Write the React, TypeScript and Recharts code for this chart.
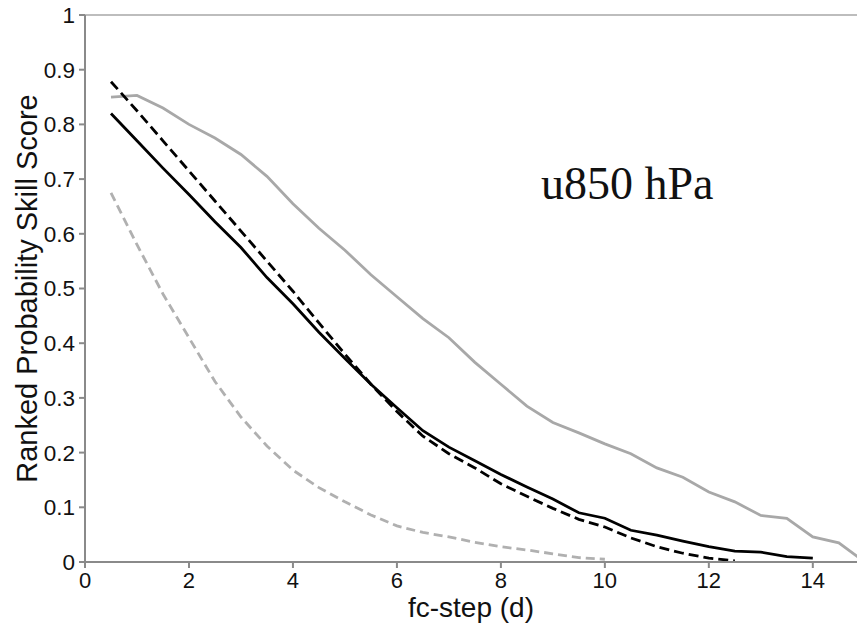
import { LineChart, Line, XAxis, YAxis, ReferenceLine, Label } from "recharts"

// forecast step in days
const steps = [
  0.5, 1, 1.5, 2, 2.5, 3, 3.5, 4, 4.5, 5, 5.5, 6, 6.5, 7, 7.5, 8, 8.5, 9, 9.5, 10,
  10.5, 11, 11.5, 12, 12.5, 13, 13.5, 14, 14.5, 15,
]

const greySolid = [
  0.85, 0.853, 0.83, 0.8, 0.775, 0.745, 0.705, 0.655, 0.61, 0.57, 0.525, 0.485, 0.445, 0.41, 0.365,
  0.325, 0.285, 0.255, 0.236, 0.216, 0.198, 0.172, 0.155, 0.128, 0.11, 0.085, 0.08, 0.046, 0.035, 0.0,
]

const blackSolid = [
  0.82, 0.77, 0.72, 0.672, 0.622, 0.575, 0.52, 0.472, 0.42, 0.372, 0.325, 0.282, 0.24, 0.21, 0.185,
  0.16, 0.137, 0.115, 0.09, 0.08, 0.058, 0.049, 0.038, 0.028, 0.02, 0.018, 0.01, 0.007,
]

const blackDashed = [
  0.878, 0.825, 0.77, 0.715, 0.66, 0.605, 0.55, 0.495, 0.437, 0.38, 0.325, 0.275, 0.23, 0.198, 0.172,
  0.143, 0.12, 0.098, 0.078, 0.064, 0.044, 0.028, 0.016, 0.007, 0.002,
]

const greyDashed = [
  0.675, 0.58, 0.49, 0.41, 0.33, 0.265, 0.212, 0.168, 0.136, 0.11, 0.086, 0.066, 0.054, 0.046, 0.036,
  0.028, 0.022, 0.015, 0.008, 0.005,
]

const xTicks = [0, 2, 4, 6, 8, 10, 12, 14]
const yTicks = [0, 0.1, 0.2, 0.3, 0.4, 0.5, 0.6, 0.7, 0.8, 0.9, 1]

const data = steps.map((step, i) => ({
  step,
  greySolid: greySolid[i],
  blackSolid: blackSolid[i],
  blackDashed: blackDashed[i],
  greyDashed: greyDashed[i],
}))

const sans = "Liberation Sans, Arial, Helvetica, sans-serif"
const axisGrey = "#8a8a8a"

function YTitle(props: any) {
  const vb = props.viewBox
  const cy = vb.y + vb.height / 2
  return (
    <text
      transform={`translate(37, ${cy}) rotate(-90)`}
      textAnchor="middle"
      fontFamily={sans}
      fontSize={29}
      fill="#111"
    >
      Ranked Probability Skill Score
    </text>
  )
}

export default function App() {
  return (
    <div style={{ position: "absolute", left: 0, top: 0, width: 857, height: 628, background: "#fff" }}>
      <LineChart width={857} height={628} data={data} margin={{ top: 15, right: 0, bottom: 0, left: 0 }}>
        <XAxis
          dataKey="step"
          type="number"
          domain={[0, 14.85]}
          allowDataOverflow
          ticks={xTicks}
          height={66}
          tickSize={6}
          tickMargin={4}
          stroke={axisGrey}
          strokeWidth={2}
          tick={{ fill: "#111", fontSize: 22, fontFamily: sans }}
        >
          <Label value="fc-step (d)" position="insideBottom" offset={11} fill="#111" fontSize={28} fontFamily={sans} />
        </XAxis>
        <YAxis
          type="number"
          domain={[0, 1]}
          ticks={yTicks}
          width={85}
          tickSize={6}
          tickMargin={4}
          stroke={axisGrey}
          strokeWidth={2}
          tickFormatter={(v: number) => String(Number(v.toFixed(1)))}
          tick={{ fill: "#111", fontSize: 22.5, fontFamily: sans }}
        >
          <Label content={YTitle} />
        </YAxis>
        <ReferenceLine y={1} stroke="#bdbdbd" strokeWidth={2} />
        <Line dataKey="greySolid" stroke="#a8a8a8" strokeWidth={2.8} dot={false} isAnimationActive={false} />
        <Line dataKey="greyDashed" stroke="#b0b0b0" strokeWidth={2.8} strokeDasharray="9 5" dot={false} isAnimationActive={false} />
        <Line dataKey="blackDashed" stroke="#000" strokeWidth={2.8} strokeDasharray="10 5" dot={false} isAnimationActive={false} />
        <Line dataKey="blackSolid" stroke="#000" strokeWidth={2.8} dot={false} isAnimationActive={false} />
      </LineChart>
      <svg width={857} height={628} style={{ position: "absolute", left: 0, top: 0, pointerEvents: "none" }}>
        <text x={541} y={199} fontFamily="Liberation Serif, Times New Roman, serif" fontSize={46} fill="#111">
          u850 hPa
        </text>
      </svg>
    </div>
  )
}
